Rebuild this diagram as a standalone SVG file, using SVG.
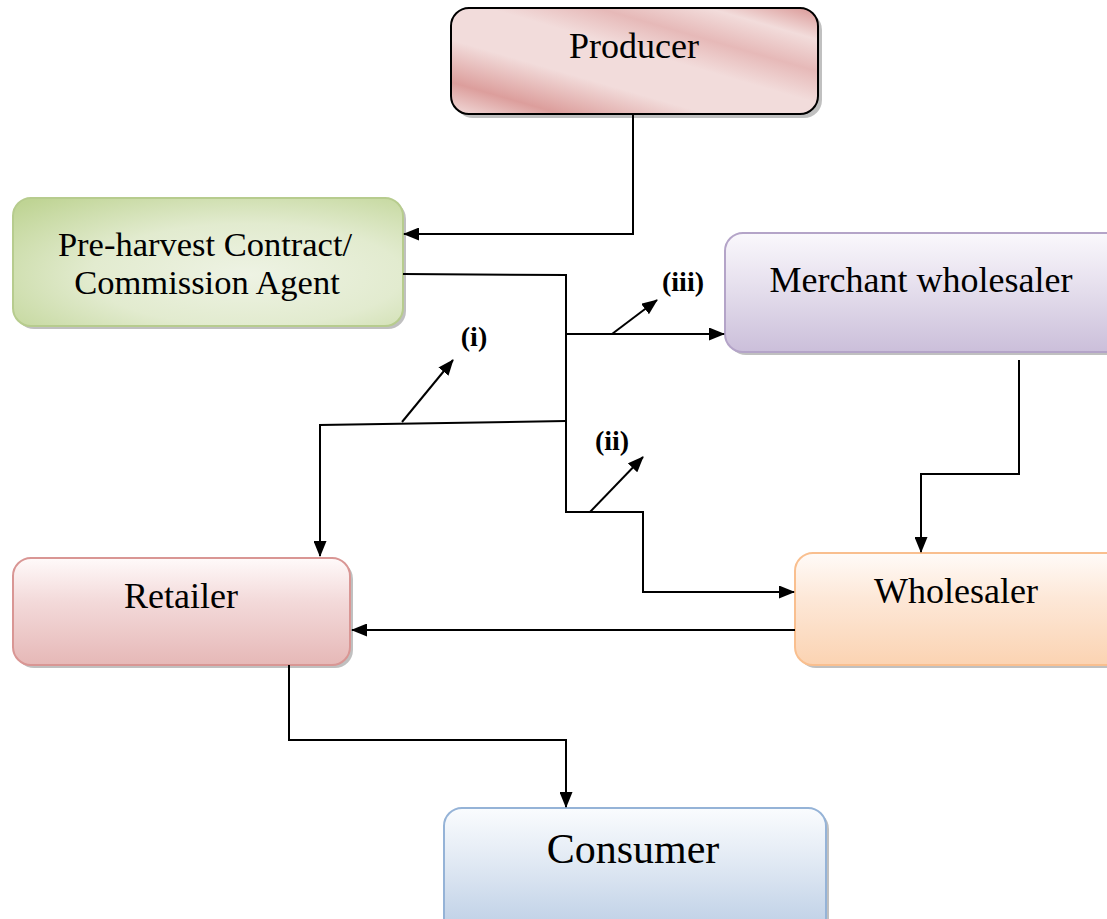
<svg xmlns="http://www.w3.org/2000/svg" width="1107" height="919" viewBox="0 0 1107 919">
<style>
.lbl{font-family:"Liberation Serif","Times New Roman",serif;fill:#000;text-anchor:middle}
.n{font-size:36px}
.p{font-size:34.5px}
.b{font-size:28px;font-weight:bold}
.c{fill:none;stroke:#000;stroke-width:2}
.sh{fill:#8c8c8c;opacity:0.55}
</style>
<defs>
<marker id="ah" viewBox="0 0 16 13" refX="15" refY="6.5" markerWidth="16" markerHeight="13" markerUnits="userSpaceOnUse" orient="auto">
<path d="M0,0 L16,6.5 L0,13 Z" fill="#000"/>
</marker>
<linearGradient id="gProd" x1="0" y1="1" x2="1" y2="0">
<stop offset="0" stop-color="#f2dcdb"/>
<stop offset="0.15" stop-color="#dc9e9c"/>
<stop offset="0.35" stop-color="#f2dcdb"/>
<stop offset="0.55" stop-color="#f2dcdb"/>
<stop offset="0.7" stop-color="#e6b9b8"/>
<stop offset="0.85" stop-color="#f2dcdb"/>
<stop offset="1" stop-color="#d99694"/>
</linearGradient>
<radialGradient id="gPre" cx="0.6" cy="0.6" r="0.8">
<stop offset="0" stop-color="#eef3e4"/>
<stop offset="0.5" stop-color="#e2ebcf"/>
<stop offset="1" stop-color="#bfd494"/>
</radialGradient>
<linearGradient id="gMer" x1="0" y1="0" x2="0" y2="1">
<stop offset="0" stop-color="#faf8fc"/>
<stop offset="0.4" stop-color="#e8e2ef"/>
<stop offset="1" stop-color="#cbbfda"/>
</linearGradient>
<linearGradient id="gRet" x1="0" y1="0" x2="0" y2="1">
<stop offset="0" stop-color="#fffafa"/>
<stop offset="0.4" stop-color="#f3dada"/>
<stop offset="1" stop-color="#e6b8b7"/>
</linearGradient>
<linearGradient id="gWho" x1="0" y1="0" x2="0" y2="1">
<stop offset="0" stop-color="#fffbf8"/>
<stop offset="0.4" stop-color="#fde8d8"/>
<stop offset="1" stop-color="#fbd3b2"/>
</linearGradient>
<linearGradient id="gCon" x1="0" y1="0" x2="0" y2="1">
<stop offset="0" stop-color="#fafcfe"/>
<stop offset="0.4" stop-color="#e2eaf4"/>
<stop offset="1" stop-color="#b9cce4"/>
</linearGradient>
</defs>

<g id="producer">
<rect class="sh" x="455" y="12" width="367" height="106" rx="18"/>
<rect x="451" y="8" width="367" height="106" rx="18" fill="url(#gProd)" stroke="#000" stroke-width="2"/>
<text class="lbl n" x="634" y="58">Producer</text>
</g>

<g id="preharvest">
<rect class="sh" x="16" y="201" width="390" height="128" rx="18"/>
<rect x="13" y="198" width="390" height="128" rx="18" fill="url(#gPre)" stroke="#b7cc8e" stroke-width="2"/>
<text class="lbl p" x="205" y="256">Pre-harvest Contract/</text>
<text class="lbl p" x="207" y="294">Commission Agent</text>
</g>

<g id="merchant">
<rect class="sh" x="728" y="236" width="400" height="119" rx="18"/>
<rect x="725" y="233" width="400" height="119" rx="18" fill="url(#gMer)" stroke="#b4a4c8" stroke-width="2"/>
<text class="lbl n" x="921" y="292">Merchant wholesaler</text>
</g>

<g id="retailer">
<rect class="sh" x="16" y="561" width="337" height="107" rx="18"/>
<rect x="13" y="558" width="337" height="107" rx="18" fill="url(#gRet)" stroke="#d99694" stroke-width="2"/>
<text class="lbl n" x="181" y="608">Retailer</text>
</g>

<g id="wholesaler">
<rect class="sh" x="798" y="556" width="330" height="112" rx="18"/>
<rect x="795" y="553" width="330" height="112" rx="18" fill="url(#gWho)" stroke="#f9bf8f" stroke-width="2"/>
<text class="lbl n" x="956" y="603">Wholesaler</text>
</g>

<g id="consumer">
<rect class="sh" x="447" y="811" width="382" height="130" rx="18"/>
<rect x="444" y="808" width="382" height="130" rx="18" fill="url(#gCon)" stroke="#95b3d7" stroke-width="2"/>
<text class="lbl" x="633" y="863" style="font-size:42px">Consumer</text>
</g>

<g id="connectors">
<polyline class="c" points="633,114 633,234 404,234" marker-end="url(#ah)"/>
<polyline class="c" points="403,274 566,275 566,512 643,512 643,592 794,592" marker-end="url(#ah)"/>
<polyline class="c" points="566,334 724,334" marker-end="url(#ah)"/>
<polyline class="c" points="566,421 320,425 320,556" marker-end="url(#ah)"/>
<polyline class="c" points="1019,360 1019,474 921,474 921,552" marker-end="url(#ah)"/>
<polyline class="c" points="795,630 352,630" marker-end="url(#ah)"/>
<polyline class="c" points="289,665 289,740 566,740 566,807" marker-end="url(#ah)"/>
<line class="c" x1="402" y1="422" x2="453" y2="360" marker-end="url(#ah)"/>
<line class="c" x1="590" y1="512" x2="643" y2="457" marker-end="url(#ah)"/>
<line class="c" x1="612" y1="334" x2="657" y2="300" marker-end="url(#ah)"/>
</g>

<g id="labels">
<text class="lbl b" x="474" y="346">(i)</text>
<text class="lbl b" x="612" y="450">(ii)</text>
<text class="lbl b" x="683" y="291">(iii)</text>
</g>
</svg>
